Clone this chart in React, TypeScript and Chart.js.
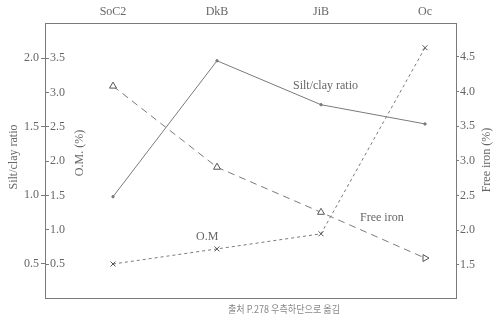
import React, { useEffect, useRef } from "react";
import { Chart, registerables } from "chart.js";

Chart.register(...registerables);

const categories = ["SoC2", "DkB", "JiB", "Oc"];
const siltClay = [0.99, 1.98, 1.66, 1.52];
const organicMatter = [0.5, 0.72, 0.94, 3.65];
const freeIron = [4.08, 2.91, 2.26, 1.6];

const scTicks = [0.5, 1.0, 1.5, 2.0];
const omTicks = [0.5, 1.0, 1.5, 2.0, 2.5, 3.0, 3.5];
const feTicks = [1.5, 2.0, 2.5, 3.0, 3.5, 4.0, 4.5];

const INK = "#666";
const LINE = "#7a7a7a";
const SERIF = "'Liberation Serif', 'DejaVu Serif', serif";

const titlesPlugin = {
  id: "titles",
  afterDraw(chart: any) {
    const ctx = chart.ctx;
    ctx.save();
    ctx.fillStyle = INK;
    ctx.font = `12px ${SERIF}`;
    ctx.textAlign = "center";
    ctx.textBaseline = "middle";
    const vtext = (t: string, x: number, y: number) => {
      ctx.save();
      ctx.translate(x, y);
      ctx.rotate(-Math.PI / 2);
      ctx.fillText(t, 0, 0);
      ctx.restore();
    };
    vtext("Silt/clay ratio", 14, 157);
    vtext("O.M. (%)", 80, 153);
    vtext("Free iron (%)", 487, 160);
    ctx.textAlign = "left";
    ctx.fillText("Silt/clay ratio", 293, 86);
    ctx.fillText("Free iron", 360, 218);
    ctx.fillText("O.M", 196, 237);
    ctx.fillStyle = "#888";
    ctx.font = "10px 'Noto Sans CJK KR', sans-serif";
    ctx.fillText("출처 P.278 우측하단으로 옮김", 228, 309, 112);
    ctx.restore();
  },
};

export default function App() {
  const ref = useRef<HTMLCanvasElement>(null);
  useEffect(() => {
    const toPts = (arr: number[]) => arr.map((v, i) => ({ x: i, y: v }));
    const chart = new Chart(ref.current!, {
      type: "line",
      data: {
        datasets: [
          {
            label: "Silt/clay ratio",
            data: toPts(siltClay),
            yAxisID: "ySC",
            xAxisID: "x",
            borderColor: LINE,
            backgroundColor: LINE,
            borderWidth: 1,
            pointRadius: 1.2,
            pointStyle: "circle",
          },
          {
            label: "O.M",
            data: toPts(organicMatter),
            yAxisID: "yOM",
            xAxisID: "x",
            borderColor: LINE,
            backgroundColor: LINE,
            borderWidth: 1,
            borderDash: [3, 3],
            pointRadius: 3.5,
            pointStyle: "crossRot",
            pointBorderColor: "#555",
          },
          {
            label: "Free iron",
            data: toPts(freeIron),
            yAxisID: "yFE",
            xAxisID: "x",
            borderColor: LINE,
            backgroundColor: "#fff",
            borderWidth: 1,
            borderDash: [7, 5],
            pointRadius: 4,
            pointStyle: "triangle",
            pointBorderColor: "#555",
            pointRotation: [0, 0, 0, 90],
          },
        ],
      },
      options: {
        animation: false,
        responsive: false,
        maintainAspectRatio: false,
        layout: { padding: 0 },
        plugins: { legend: { display: false }, tooltip: { enabled: false } },
        scales: {
          x: {
            type: "linear",
            position: "top",
            min: -0.654,
            max: 3.298,
            afterBuildTicks: (s: any) => {
              s.ticks = categories.map((_, i) => ({ value: i }));
            },
            afterFit: (s: any) => {
              s.height = 23;
            },
            ticks: {
              color: INK,
              font: { family: SERIF, size: 12 },
              padding: 4,
              maxRotation: 0,
              autoSkip: false,
              callback: (v: any) => categories[v] ?? "",
            },
            grid: { drawOnChartArea: false, drawTicks: false },
            border: { display: true, color: LINE, width: 1 },
          },
          xb: {
            type: "linear",
            position: "bottom",
            min: 0,
            max: 1,
            afterFit: (s: any) => {
              s.height = 25;
            },
            ticks: { display: false },
            grid: { drawOnChartArea: false, drawTicks: false },
            border: { display: true, color: LINE, width: 1 },
          },
          ySC: {
            type: "linear",
            position: "left",
            weight: 1,
            min: 0.2524,
            max: 2.255,
            afterBuildTicks: (s: any) => {
              s.ticks = scTicks.map((v) => ({ value: v }));
            },
            afterFit: (s: any) => {
              s.width = 45;
            },
            ticks: {
              color: INK,
              font: { family: SERIF, size: 12 },
              padding: 2,
              callback: (v: any) => Number(v).toFixed(1),
            },
            grid: { drawOnChartArea: false, drawTicks: true, tickLength: 4, color: LINE },
            border: { display: true, color: LINE, width: 1 },
          },
          yOM: {
            type: "linear",
            position: "left",
            weight: 0,
            min: 0.005,
            max: 4.01,
            afterBuildTicks: (s: any) => {
              s.ticks = omTicks.map((v) => ({ value: v }));
            },
            afterFit: (s: any) => {
              s.width = 0;
            },
            ticks: {
              color: INK,
              font: { family: SERIF, size: 12 },
              mirror: true,
              padding: 5,
              callback: (v: any) => Number(v).toFixed(1),
            },
            grid: { drawOnChartArea: false, drawTicks: true, tickLength: -4, color: LINE },
            border: { display: false },
          },
          yFE: {
            type: "linear",
            position: "right",
            min: 1.024,
            max: 4.99,
            afterBuildTicks: (s: any) => {
              s.ticks = feTicks.map((v) => ({ value: v }));
            },
            afterFit: (s: any) => {
              s.width = 41;
            },
            ticks: {
              color: INK,
              font: { family: SERIF, size: 12 },
              padding: 1,
              callback: (v: any) => Number(v).toFixed(1),
            },
            grid: { drawOnChartArea: false, drawTicks: true, tickLength: 3, color: LINE },
            border: { display: true, color: LINE, width: 1 },
          },
        },
      },
      plugins: [titlesPlugin],
    });
    return () => chart.destroy();
  }, []);
  return (
    <div style={{ position: "fixed", left: 0, top: 0, width: 497, height: 323, background: "#fff" }}>
      <canvas ref={ref} width={497} height={323} style={{ display: "block", width: 497, height: 323 }} />
    </div>
  );
}
